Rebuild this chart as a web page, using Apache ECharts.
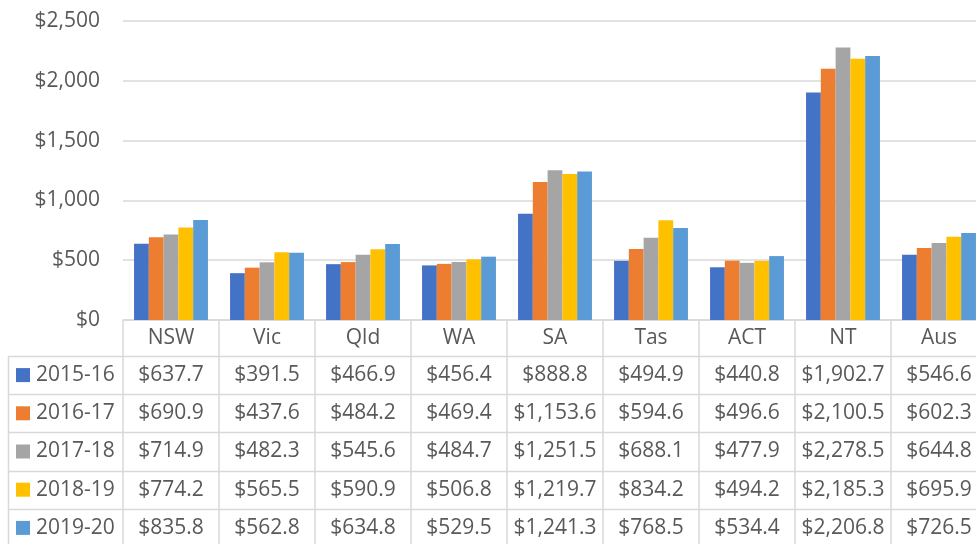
<!DOCTYPE html>
<html>
<head>
<meta charset="utf-8">
<script src="https://cdn.jsdelivr.net/npm/echarts@6/dist/echarts.min.js"></script>
<style>
  html, body { margin: 0; padding: 0; background: #fff; }
  #chart { width: 976px; height: 544px; }
</style>
</head>
<body>
<div id="chart"></div>
<script>
const categories = ['NSW', 'Vic', 'Qld', 'WA', 'SA', 'Tas', 'ACT', 'NT', 'Aus']
const seriesNames = ['2015-16', '2016-17', '2017-18', '2018-19', '2019-20']
const v2015 = [637.7, 391.5, 466.9, 456.4, 888.8, 494.9, 440.8, 1902.7, 546.6]
const v2016 = [690.9, 437.6, 484.2, 469.4, 1153.6, 594.6, 496.6, 2100.5, 602.3]
const v2017 = [714.9, 482.3, 545.6, 484.7, 1251.5, 688.1, 477.9, 2278.5, 644.8]
const v2018 = [774.2, 565.5, 590.9, 506.8, 1219.7, 834.2, 494.2, 2185.3, 695.9]
const v2019 = [835.8, 562.8, 634.8, 529.5, 1241.3, 768.5, 534.4, 2206.8, 726.5]
const seriesValues = [v2015, v2016, v2017, v2018, v2019]
const colors = ['#4472C4', '#ED7D31', '#A5A5A5', '#FFC000', '#5B9BD5']

const font = '"Open Sans", "Noto Sans", sans-serif'
const fontSize = 21
const textColor = '#595959'
const lineColor = '#d9d9d9'

// layout
const gridLeft = 123
const gridTop = 21
const colW = 96
const axisY = 320
const headerBottom = 356
const rowH = 38.2
const tableBottom = 544

const money = (v) => '$' + v.toLocaleString('en-US', { minimumFractionDigits: 1, maximumFractionDigits: 1 })

const graphics = []
// row lines
for (let r = 0; r < seriesNames.length; r++) {
  const y = Math.round(headerBottom + r * rowH) + 0.5
  graphics.push({
    type: 'line',
    shape: { x1: 8, y1: y, x2: 976, y2: y },
    style: { stroke: lineColor, lineWidth: 1.5 }
  })
}
graphics.push({
  type: 'line',
  shape: { x1: 8.5, y1: headerBottom, x2: 8.5, y2: tableBottom },
  style: { stroke: lineColor, lineWidth: 1.5 }
})
seriesNames.forEach((name, r) => {
  const cy = headerBottom + r * rowH + rowH / 2
  graphics.push({
    type: 'rect',
    shape: { x: 16, y: cy - 7, width: 14, height: 14 },
    style: { fill: colors[r] }
  })
  graphics.push({
    type: 'text',
    x: 36, y: cy,
    style: { text: name, font: fontSize + 'px ' + font, fill: textColor, verticalAlign: 'middle', align: 'left' }
  })
  seriesValues[r].forEach((v, i) => {
    graphics.push({
      type: 'text',
      x: gridLeft + colW * (i + 0.5), y: cy,
      style: { text: money(v), font: fontSize + 'px ' + font, fill: textColor, verticalAlign: 'middle', align: 'center' }
    })
  })
})

const chart = echarts.init(document.getElementById('chart'))
chart.setOption({
  animation: false,
  color: colors,
  grid: {
    left: gridLeft, top: gridTop,
    width: colW * categories.length, height: axisY - gridTop,
    outerBoundsMode: 'none'
  },
  xAxis: {
    type: 'category',
    data: categories,
    axisLine: { lineStyle: { color: lineColor, width: 1.5 } },
    axisTick: { show: true, interval: 0, length: tableBottom - axisY, lineStyle: { color: lineColor, width: 1.5 } },
    axisLabel: { interval: 0, margin: 8, color: textColor, fontSize: fontSize, fontFamily: font, lineHeight: 20 }
  },
  yAxis: {
    type: 'value',
    min: 0,
    max: 2500,
    interval: 500,
    axisLine: { show: false },
    axisTick: { show: false },
    splitLine: { lineStyle: { color: lineColor, width: 1.5 } },
    axisLabel: {
      margin: 23,
      color: textColor,
      fontSize: fontSize,
      fontFamily: font,
      formatter: (v) => '$' + v.toLocaleString('en-US')
    }
  },
  series: seriesNames.map((name, r) => ({
    name,
    type: 'bar',
    data: seriesValues[r],
    barGap: '0%',
    barCategoryGap: '23%'
  })),
  graphic: graphics
})
</script>
</body>
</html>
